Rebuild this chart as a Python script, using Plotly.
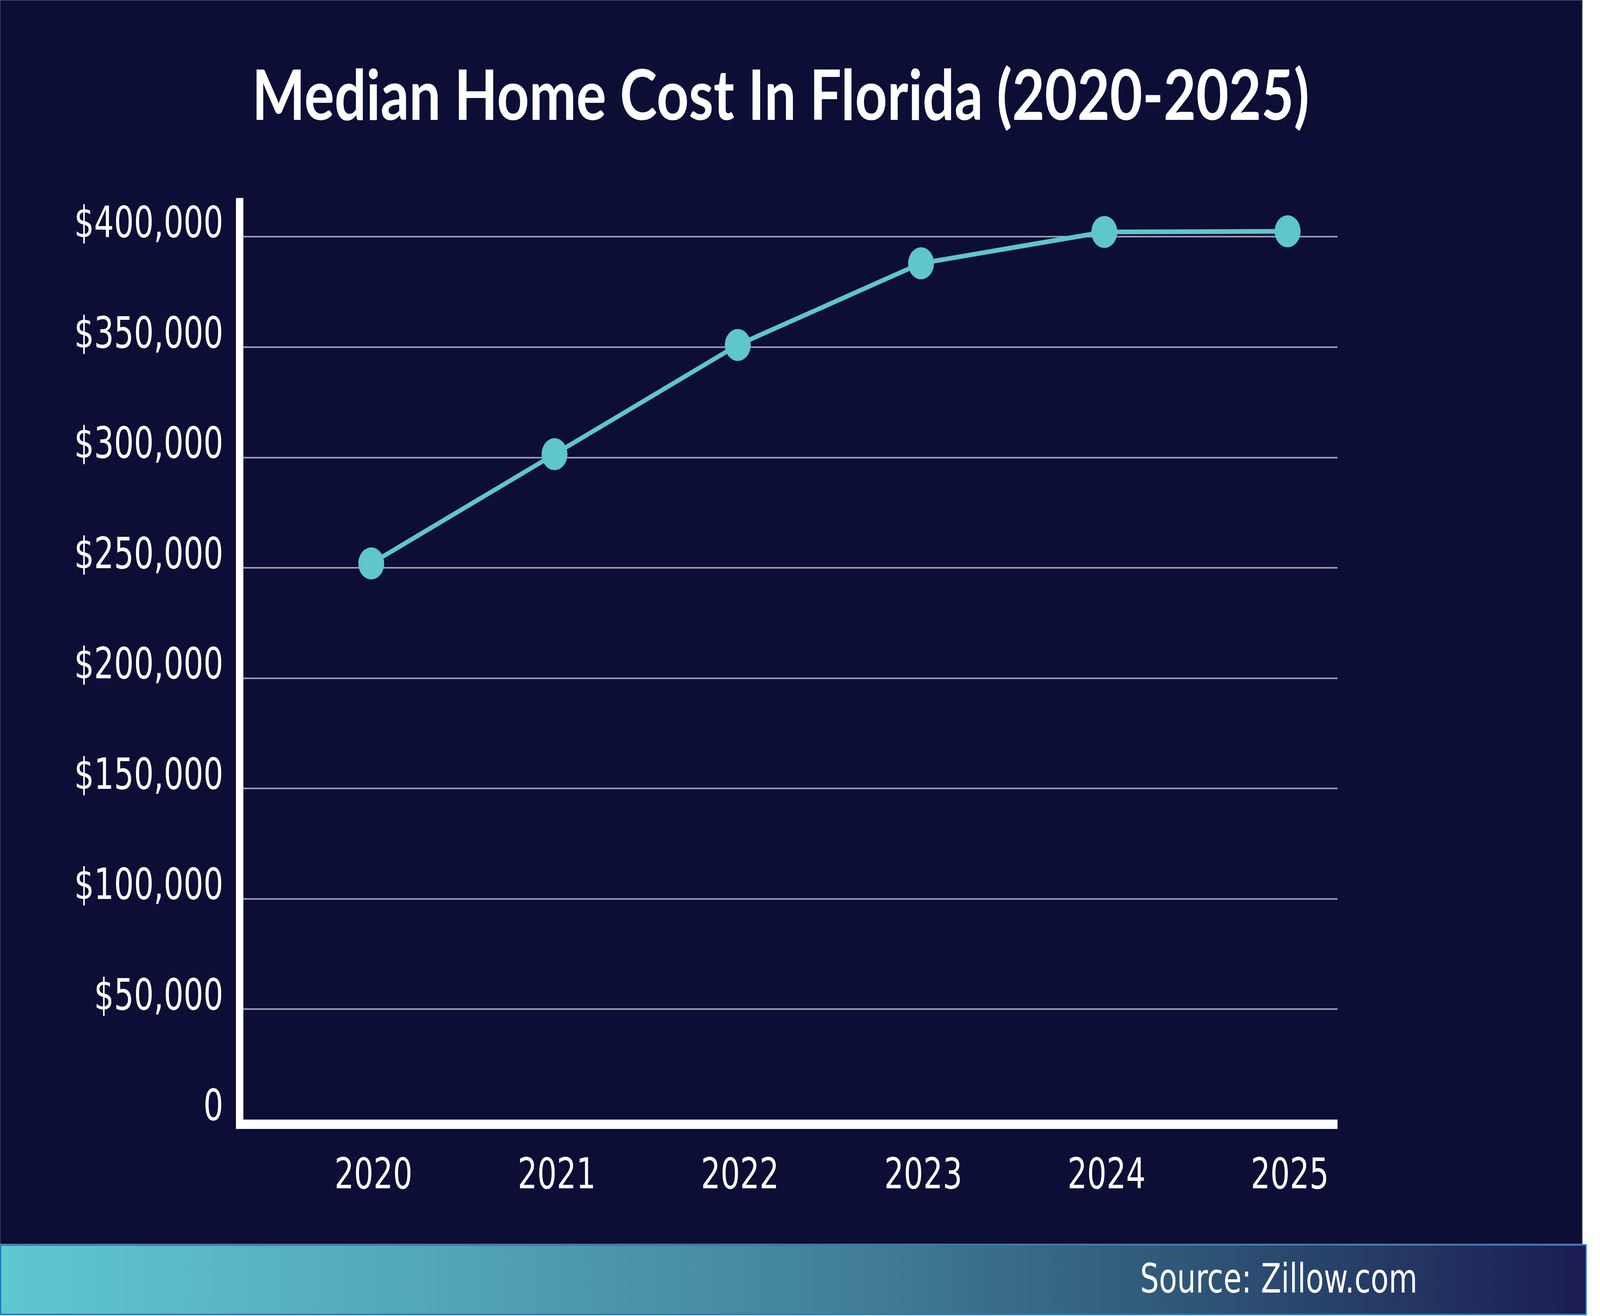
import base64

import plotly.graph_objects as go

# data
years = ["2020", "2021", "2022", "2023", "2024", "2025"]
median_cost = [252000, 301500, 351000, 388000, 402200, 402500]
y_tick_vals = [0, 50000, 100000, 150000, 200000, 250000, 300000, 350000, 400000]
y_tick_text = ["0", "$50,000", "$100,000", "$150,000", "$200,000",
               "$250,000", "$300,000", "$350,000", "$400,000"]
title_text = "Median Home Cost In Florida (2020-2025)"
source_text = "Source: Zillow.com"

# canvas + plot area (pixels)
W, H = 5066, 3370
L, R, T, B = 771, 4235, 507, 2867

BG = "#0c0e35"
TEAL = "#5ec6cc"
NARROW = "Liberation Sans Narrow, DejaVu Sans Condensed, sans-serif"


def px(x):
    return (x - L) / (R - L)


def py(y):
    return (B - y) / (B - T)


# gradient footer band as an inline svg image
svg = (
    '<svg xmlns="http://www.w3.org/2000/svg" width="5024" height="182" '
    'viewBox="0 0 5024 182" preserveAspectRatio="none">'
    '<defs><linearGradient id="g" x1="0" x2="1" y1="0" y2="0">'
    '<stop offset="0" stop-color="#5fc8d0"/>'
    '<stop offset="0.25" stop-color="#54a9b9"/>'
    '<stop offset="0.5" stop-color="#44869c"/>'
    '<stop offset="0.75" stop-color="#2f5677"/>'
    '<stop offset="1" stop-color="#1b1c52"/>'
    '</linearGradient></defs>'
    '<rect x="2" y="2" width="5020" height="178" fill="url(#g)" '
    'stroke="#1f7cc4" stroke-width="4"/></svg>'
)
svg_uri = "data:image/svg+xml;base64," + base64.b64encode(svg.encode()).decode()

fig = go.Figure(
    go.Scatter(
        x=years,
        y=median_cost,
        mode="lines+markers",
        line=dict(color=TEAL, width=12),
        marker=dict(color=TEAL, size=82),
        hoverinfo="x+y",
    )
)

fig.update_layout(
    width=W,
    height=H,
    margin=dict(l=L, r=W - R, t=T, b=H - B, pad=0, autoexpand=False),
    paper_bgcolor="white",
    plot_bgcolor="rgba(0,0,0,0)",
    showlegend=False,
    shapes=[
        dict(type="rect", xref="paper", yref="paper",
             x0=px(0), x1=px(5010), y0=py(3186), y1=py(0),
             fillcolor=BG, line=dict(color="#7c7b98", width=2), layer="below"),
    ],
    images=[
        dict(source=svg_uri, xref="paper", yref="paper",
             x=px(0), y=py(3186), sizex=px(5024) - px(0), sizey=py(3186) - py(3368),
             xanchor="left", yanchor="top", sizing="stretch", layer="below"),
    ],
    annotations=[
        dict(text=f"<b>{title_text}</b>", xref="paper", yref="paper",
             x=px(2472), y=py(238), xanchor="center", yanchor="middle",
             showarrow=False, font=dict(family="Lato, Open Sans, sans-serif", size=178, color="white")),
        dict(text=source_text, xref="paper", yref="paper",
             x=px(4490), y=py(3274), xanchor="right", yanchor="middle",
             showarrow=False, font=dict(family=NARROW, size=104, color="white")),
    ],
)

fig.update_xaxes(
    type="category",
    range=[-0.697, 5.2725],
    showline=True, linecolor="white", linewidth=24,
    showgrid=False, zeroline=False, ticks="",
    tickfont=dict(family=NARROW, size=108, color="white"),
    ticklabelstandoff=22, ticklabelshift=7,
)
fig.update_yaxes(
    range=[0, 417600],
    tickvals=y_tick_vals, ticktext=y_tick_text,
    showline=True, linecolor="white", linewidth=24,
    showgrid=True, gridcolor="#9e9cb3", gridwidth=4,
    zeroline=False, ticks="",
    tickfont=dict(family=NARROW, size=110, color="white"),
    ticklabelstandoff=18, ticklabelshift=-38,
)

# the viewport may be smaller than the 5066x3370 figure: stretch the page onto it
fit_page = (
    "var b=document.body;"
    "document.documentElement.style.overflow='hidden';"
    "b.style.margin='0';b.style.width='5066px';b.style.height='3370px';"
    "var sx=window.innerWidth/5066, sy=window.innerHeight/3370;"
    "b.style.transformOrigin='0 0';"
    "b.style.transform='scale('+sx+','+sy+')';"
)
fig.write_html("out.html", config={"displayModeBar": False}, post_script=fit_page)
